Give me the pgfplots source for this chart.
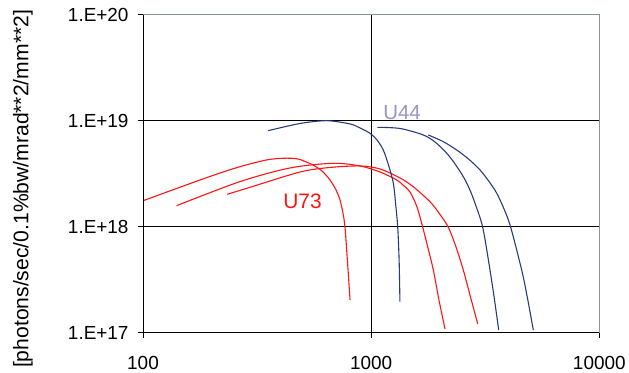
\documentclass[border=0pt]{standalone}
\usepackage{pgfplots}
\pgfplotsset{compat=1.18}
\usepackage{graphicx}
\usepackage{fontspec}
\setmainfont{Liberation Sans}
\definecolor{ured}{RGB}{255,20,20}
\definecolor{ublue}{RGB}{40,60,125}
\definecolor{ulab}{RGB}{150,150,200}
\definecolor{bordergray}{RGB}{135,148,152}
\begin{document}
\begin{tikzpicture}
\begin{axis}[
  name=ax,
  xmode=log, ymode=log,
  scale only axis,
  width=456.3bp, height=318bp,
  xmin=100, xmax=10000, ymin=1e17, ymax=1e20,
  xtick={100,1000,10000}, xticklabels={100,1000,10000},
  ytick={1e17,1e18,1e19,1e20},
  yticklabels={1.E+17,1.E+18,1.E+19,1.E+20},
  xminorticks=false, yminorticks=false,
  xtick pos=left, ytick pos=left,
  tick align=outside,
  major tick length=5bp,
  tick style={black, line width=0.8bp},
  grid=major,
  major grid style={black, line width=0.9bp},
  axis line style={bordergray, line width=1bp},
  tick label style={font=\fontsize{19}{19}\selectfont, black},
  xticklabel style={yshift=-15bp},
  yticklabel style={xshift=-6bp},
  ylabel={[photons/sec/0.1\%bw/mrad**2/mm**2]},
  ylabel style={font=\fontsize{21.2}{21.2}\selectfont, at={(axis description cs:-0.263,0.452)}, anchor=center},
  clip=false,
]
% U73 (red)
\addplot[ured, line width=1.1bp, smooth, tension=0.5] coordinates {
 (100.3,1.76e18) (190,2.90e18) (266,3.68e18) (348,4.26e18) (412,4.42e18)
 (478,4.35e18) (556,3.82e18) (609,3.35e18) (660,2.76e18) (701.5,2.22e18)
 (730,1.79e18) (752.5,1.346e18) (768,9.94e17)
 (781,6.03e17) (795,3.50e17) (808,2.03e17)};
\addplot[ured, line width=1.1bp, smooth, tension=0.5] coordinates {
 (140.5,1.58e18) (266,2.66e18) (441,3.58e18) (680,3.96e18) (893,3.74e18)
 (1094,3.28e18) (1294,2.76e18) (1379,2.47e18) (1480,2.13e18) (1589,1.53e18)
 (1683,9.87e17) (1775,6.29e17) (1873,3.90e17) (1983,2.03e17)
 (2108,1.08e17)};
\addplot[ured, line width=1.1bp, smooth, tension=0.5] coordinates {
 (234,2.02e18) (294,2.35e18) (488,3.28e18) (660,3.62e18) (893,3.74e18)
 (1094,3.50e18) (1339,2.88e18) (1530,2.38e18) (1811,1.72e18) (1983,1.346e18)
 (2179,9.87e17) (2355,6.43e17) (2535,3.90e17) (2726,2.17e17) (2931,1.21e17)};
% U44 (blue)
\addplot[ublue, line width=1.1bp, smooth, tension=0.5] coordinates {
 (354,8.05e18) (488,9.41e18) (639,1.0e19) (808,9.31e18) (894,8.53e18)
 (989,7.60e18) (1061,6.58e18) (1130,5.29e18) (1191,3.82e18) (1251,2.57e18)
 (1279,1.67e18) (1307,1.0e18) (1326,4.85e17) (1337,1.96e17)};
\addplot[ublue, line width=1.1bp, smooth, tension=0.5] coordinates {
 (1064,8.66e18) (1339,8.44e18) (1693,7.33e18) (1905,6.29e18) (2144,4.93e18)
 (2331,3.91e18) (2535,2.96e18) (2698,2.27e18) (2853,1.66e18) (3083,9.87e17)
 (3318,3.90e17) (3474,2.03e17) (3623,1.06e17)};
\addplot[ublue, line width=1.1bp, smooth, tension=0.5] coordinates {
 (1780,7.33e18) (2065,6.36e18) (2371,5.29e18) (2685,4.31e18) (3000,3.43e18)
 (3286,2.67e18) (3551,2.07e18) (3833,1.45e18) (4089,9.87e17)
 (4569,3.90e17) (4843,2.12e17) (5137,1.06e17)};
\node[ulab, font=\fontsize{20.5}{20.5}\selectfont] at (axis cs:1365,1.18e19) {U44};
\node[ured, font=\fontsize{21}{21}\selectfont] at (axis cs:500,1.72e18) {U73};
\end{axis}
\draw[black, line width=1bp] (ax.north west) -- (ax.south west) -- (ax.south east);
\path[use as bounding box] ([xshift=-143bp,yshift=-40.3bp]ax.south west) rectangle ([xshift=29.7bp,yshift=14.7bp]ax.north east);
\end{tikzpicture}
\end{document}
